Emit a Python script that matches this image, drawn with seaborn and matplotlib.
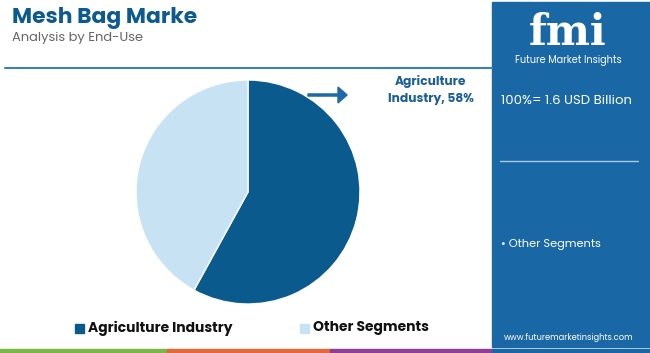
import matplotlib.pyplot as plt
import seaborn as sns
from matplotlib.patches import Rectangle, FancyArrow

segments = ["Agriculture Industry", "Other Segments"]
shares = [58, 42]
total_label = "100%= 1.6 USD Billion"
title = "Mesh Bag Marke"
subtitle = "Analysis by End-Use"

sns.set_theme(style="white")
plt.rcParams['font.family'] = ['Poppins', 'Roboto', 'DejaVu Sans']
colors = sns.color_palette(["#0b5a8e", "#c6e2f3"])

W, H = 650, 353
fig = plt.figure(figsize=(W / 100, H / 100), dpi=100)
fig.patch.set_facecolor("white")

def fx(x):
    return x / W

def fy(y):
    return 1 - y / H

# pie axes
cx, cy, r = 248, 192, 112
ax = fig.add_axes([fx(cx - r), fy(cy + r), 2 * r / W, 2 * r / H])
ax.pie(shares, colors=colors, startangle=90, counterclock=False, radius=1)
ax.set_xlim(-1, 1)
ax.set_ylim(-1, 1)
ax.set_aspect("auto")
ax.axis("off")

# header
fig.text(fx(12), fy(18), title, fontsize=15.7, fontweight="bold", color="#0d5a8e", va="center")
fig.text(fx(12), fy(38), subtitle, fontsize=9.4, color="#666666", va="center")
fig.add_artist(plt.Line2D([fx(5), fx(492)], [fy(68), fy(68)], color="#3d7fb5", lw=1.5))

# callout
fig.add_artist(FancyArrow(fx(308), fy(95), fx(30), 0, width=0.006, head_width=0.045,
                          head_length=0.014, color="#1f6aa6", length_includes_head=False))
fig.text(fx(431), fy(90), "Agriculture\nIndustry, 58%", fontsize=8.8, fontweight="bold",
         color="#1a5f96", ha="center", va="center", linespacing=1.5)

# legend
for lx, tx, c, lab in [(75, 88, colors[0], segments[0]), (300, 313, colors[1], segments[1])]:
    fig.add_artist(Rectangle((fx(lx), fy(333)), fx(9), 9 / H, color=c))
    fig.text(fx(tx), fy(328), lab, fontsize=10, fontweight="bold", color="#111111", va="center")

# right panel
fig.add_artist(Rectangle((fx(492), fy(347)), fx(158), 345 / H, color="#1a67a6"))
fig.text(fx(568), fy(45), "fmi", fontsize=30, fontweight="bold", color="white",
         ha="center", va="baseline", family="DejaVu Serif")
fig.text(fx(568), fy(61), "Future Market Insights", fontsize=7, color="white", ha="center", va="center")
fig.text(fx(501), fy(101), total_label, fontsize=9.5, color="white", va="center")
fig.add_artist(plt.Line2D([fx(500), fx(638)], [fy(161), fy(161)], color="#a9cbe6", lw=1))
fig.text(fx(501), fy(245), "• " + segments[1], fontsize=8.2, color="white", va="center")
fig.text(fx(569), fy(337), "www.futuremarketinsights.com", fontsize=6, color="white",
         ha="center", va="center")

# bottom stripe
for x0, x1, c in [(0, 167, "#7ab648"), (167, 330, "#e06a3b"), (330, 492, "#8e3f94"), (492, 650, "#1a67a6")]:
    fig.add_artist(Rectangle((fx(x0), 0), fx(x1 - x0), 4 / H, color=c))

fig.savefig("out.png", dpi=100)
